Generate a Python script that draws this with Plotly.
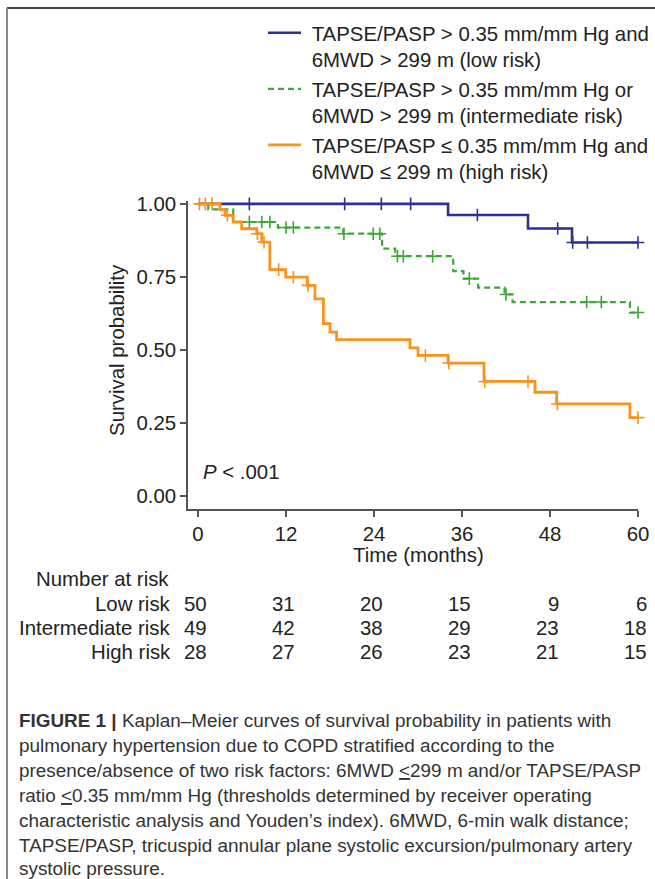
import plotly.graph_objects as go

# ---------------- data ----------------
time_ticks = [0, 12, 24, 36, 48, 60]

low_event_t = [34.1, 45.0, 51.0]
low_event_s = [0.962, 0.916, 0.868]
low_cens_t = [7.0, 20.0, 25.0, 29.0, 38.1, 49.05, 51.1, 53.1, 60.0]

mid_event_t = [1.4, 4.8, 10.9, 19.8, 25.1, 26.9, 34.8, 36.2, 38.2, 41.8, 42.9, 58.9]
mid_event_s = [0.981, 0.938, 0.919, 0.898, 0.847, 0.821, 0.770, 0.744, 0.713, 0.690, 0.664, 0.628]
mid_cens_t = [7.0, 8.7, 9.8, 12.0, 13.0, 19.9, 23.9, 24.8, 27.2, 28.0, 32.0, 37.0, 42.0, 53.0, 55.0, 60.0]

high_event_t = [3.0, 3.7, 4.8, 5.96, 8.0, 8.7, 9.8, 11.96, 14.9, 15.95, 17.1, 18.0, 18.9,
                28.9, 30.0, 34.1, 39.0, 45.95, 48.9, 58.9]
high_event_s = [0.980, 0.961, 0.938, 0.915, 0.898, 0.869, 0.775, 0.749, 0.721, 0.675, 0.590,
                0.561, 0.535, 0.507, 0.481, 0.455, 0.392, 0.355, 0.315, 0.268]
high_cens_t = [0.2, 1.0, 1.9, 4.0, 8.1, 9.0, 11.0, 13.0, 15.0, 31.0, 34.2, 39.1, 45.0, 49.0, 60.0]

group_names = [
    "\u00a0TAPSE/PASP > 0.35 mm/mm Hg and<br>\u00a06MWD > 299 m (low risk)",
    "\u00a0TAPSE/PASP > 0.35 mm/mm Hg or<br>\u00a06MWD > 299 m (intermediate risk)",
    "\u00a0TAPSE/PASP ≤ 0.35 mm/mm Hg and<br>\u00a06MWD ≤ 299 m (high risk)",
]
risk_labels = ["Low risk", "Intermediate risk", "High risk"]
risk_low = [50, 31, 20, 15, 9, 6]
risk_mid = [49, 42, 38, 29, 23, 18]
risk_high = [28, 27, 26, 23, 21, 15]

caption_lines = [
    "<b>FIGURE 1 |</b> Kaplan–Meier curves of survival probability in patients with",
    "pulmonary hypertension due to COPD stratified according to the",
    "presence/absence of two risk factors: 6MWD <u>&lt;</u>299 m and/or TAPSE/PASP",
    "ratio <u>&lt;</u>0.35 mm/mm Hg (thresholds determined by receiver operating",
    "characteristic analysis and Youden’s index). 6MWD, 6-min walk distance;",
    "TAPSE/PASP, tricuspid annular plane systolic excursion/pulmonary artery",
    "systolic pressure.",
]

# ---------------- styling ----------------
W, H = 655, 879
ML, MR, MT, MB = 188, 17, 201, 370
PW, PH = W - ML - MR, H - MT - MB
FONT = "Liberation Sans, Arial, sans-serif"
TXT = "#222222"
FS = 20.4
colors = ["#2E3192", "#3AAA35", "#F7941D"]
dashes = ["solid", "6px,4px", "solid"]
widths = [2.6, 2.2, 2.8]


def px_x(p):
    return (p - ML) / PW


def px_y(p):
    return (H - MB - p) / PH


def surv_at(t, ev_t, ev_s):
    s = 1.0
    for et, es in zip(ev_t, ev_s):
        if et <= t:
            s = es
    return s


fig = go.Figure()
groups = [
    (low_event_t, low_event_s, low_cens_t),
    (mid_event_t, mid_event_s, mid_cens_t),
    (high_event_t, high_event_s, high_cens_t),
]
for i, (et, es, ct) in enumerate(groups):
    xs = [0] + et + [60]
    ys = [1.0] + es + [es[-1]]
    fig.add_trace(go.Scatter(
        x=xs, y=ys, mode="lines", line_shape="hv", name=group_names[i],
        line=dict(color=colors[i], width=widths[i], dash=dashes[i]),
        showlegend=True, hoverinfo="skip"))
    fig.add_trace(go.Scatter(
        x=ct, y=[surv_at(t, et, es) for t in ct], mode="markers",
        marker=dict(symbol="cross-thin", size=9, line=dict(color=colors[i], width=1.6)),
        showlegend=False, cliponaxis=False, hoverinfo="skip"))

annotations = []
# p-value
annotations.append(dict(x=0.4, y=0.082, xref="x", yref="y", text="<i>P</i> < .001",
                        showarrow=False, xanchor="left", yanchor="middle",
                        font=dict(size=FS, color=TXT, family=FONT)))
# axis titles
annotations.append(dict(x=30, y=px_y(555), xref="x", yref="paper", text="Time (months)",
                        showarrow=False, xanchor="center", yanchor="middle",
                        font=dict(size=FS, color=TXT, family=FONT)))
annotations.append(dict(x=px_x(117), y=0.5, xref="paper", yref="y", text="Survival probability",
                        textangle=-90, showarrow=False, xanchor="center", yanchor="middle",
                        font=dict(size=FS, color=TXT, family=FONT)))
# number at risk table
annotations.append(dict(x=px_x(171), y=px_y(579), xref="paper", yref="paper", text="Number at risk",
                        showarrow=False, xanchor="right", yanchor="middle",
                        font=dict(size=FS, color=TXT, family=FONT)))
row_y = [604, 628, 652]
for lab, vals, ry in zip(risk_labels, [risk_low, risk_mid, risk_high], row_y):
    annotations.append(dict(x=px_x(173), y=px_y(ry), xref="paper", yref="paper", text=lab,
                            showarrow=False, xanchor="right", yanchor="middle",
                            font=dict(size=FS, color=TXT, family=FONT)))
    for t, v in zip(time_ticks, vals):
        annotations.append(dict(x=t, y=px_y(ry), xref="x", yref="paper", text=str(v),
                                showarrow=False, xanchor="right", yanchor="middle", xshift=11,
                                font=dict(size=FS, color=TXT, family=FONT)))
# caption
cap_y = [720, 745, 770, 795, 820, 845, 869]
for line, cy in zip(caption_lines, cap_y):
    annotations.append(dict(x=px_x(17), y=px_y(cy), xref="paper", yref="paper", text=line,
                            showarrow=False, xanchor="left", yanchor="middle",
                            font=dict(size=18.9, color="#333333", family=FONT)))

shapes = [
    dict(type="line", xref="paper", yref="paper", x0=px_x(7), x1=px_x(656), y0=px_y(8), y1=px_y(8),
         line=dict(color="#444444", width=2)),
    dict(type="line", xref="paper", yref="paper", x0=px_x(7), x1=px_x(7), y0=px_y(8), y1=px_y(880),
         line=dict(color="#888888", width=2)),
]

fig.update_layout(
    width=W, height=H,
    margin=dict(l=ML, r=MR, t=MT, b=MB, pad=0, autoexpand=False),
    paper_bgcolor="white", plot_bgcolor="white",
    font=dict(family=FONT, size=FS, color=TXT),
    showlegend=True,
    legend=dict(x=px_x(263), y=px_y(13), xanchor="left", yanchor="top",
                font=dict(size=FS, color=TXT, family=FONT), itemwidth=33,
                valign="top", bgcolor="rgba(0,0,0,0)", tracegroupgap=0),
    xaxis=dict(range=[-1.364, 60], tickvals=time_ticks, ticks="outside", ticklen=6,
               tickwidth=1.5, tickcolor="#555555", showline=True, linecolor="#555555",
               linewidth=1.5, showgrid=False, zeroline=False,
               tickfont=dict(size=FS, color=TXT, family=FONT)),
    yaxis=dict(range=[-0.0448, 1.01], tickvals=[0, 0.25, 0.5, 0.75, 1.0],
               tickformat=".2f", ticks="outside", ticklen=6, tickwidth=1.5,
               tickcolor="#555555", showline=True, linecolor="#555555", linewidth=1.5,
               showgrid=False, zeroline=False,
               tickfont=dict(size=FS, color=TXT, family=FONT)),
    annotations=annotations,
    shapes=shapes,
)

fig.write_html("out.html")
